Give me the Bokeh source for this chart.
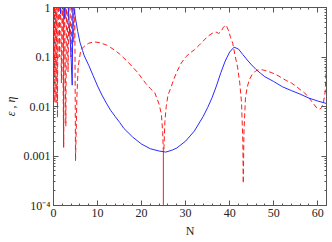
from bokeh.plotting import figure
from bokeh.models import LinearAxis, LogAxis, FixedTicker, Range1d, CustomJSTickFormatter
from bokeh.embed import file_html
from bokeh.resources import INLINE

# ---- data ----
blue_N = [0.0, 1.3, 1.6, 1.9, 2.3, 2.6, 2.8, 3.2, 3.5, 3.9, 4.25, 4.45, 4.7,
          5.0, 5.5, 6.0, 6.6, 7.0, 8.0, 9.0, 10.0, 11.0, 12.0, 13.0, 14.0, 15.0,
          16.0, 18.0, 20.0, 22.0, 24.0, 25.5, 27.0, 28.0, 30.0, 32.0, 34.0, 35.0,
          36.0, 37.0, 38.0, 39.0, 40.0, 41.0, 42.0, 43.0, 44.0, 45.0, 46.0, 47.0,
          48.0, 50.0, 52.0, 54.0, 56.0, 58.0, 60.0, 62.0]
blue_v = [3.0, 3.0, 0.75, 3.0, 3.0, 0.6, 3.0, 2.0, 0.55, 0.15, 0.027, 3.0, 0.9,
          0.6, 0.33, 0.2, 0.135, 0.105, 0.068, 0.042, 0.026, 0.017, 0.0117, 0.0083,
          0.0063, 0.0048, 0.0036, 0.0024, 0.00174, 0.0014, 0.00126, 0.0012, 0.00132,
          0.00145, 0.002, 0.0032, 0.0063, 0.0095, 0.015, 0.026, 0.048, 0.083, 0.126,
          0.158, 0.145, 0.112, 0.087, 0.069, 0.056, 0.047, 0.04, 0.032, 0.025, 0.021,
          0.0178, 0.0148, 0.0129, 0.0115]

red_N = [0.0, 0.1, 0.2, 0.3, 0.45, 0.6, 0.75, 0.9, 1.05, 1.3, 1.5, 1.8, 2.0, 2.3,
         2.45, 2.8, 3.0, 3.3, 3.6, 4.0, 4.3, 4.6, 4.8, 5.0, 5.15, 5.3, 5.6, 6.2,
         7.0, 8.0, 9.0, 9.6, 10.5, 12.0, 13.0, 14.0, 15.0, 16.0, 17.0, 18.0, 19.0,
         20.0, 21.0, 22.0, 23.0, 24.0, 24.5, 24.8, 24.95, 25.05, 25.3, 25.6, 26.0,
         26.5, 27.3, 28.0, 29.0, 30.0, 31.0, 32.0, 33.0, 34.0, 35.0, 36.0, 36.9,
         37.5, 38.0, 38.6, 39.2, 39.7, 40.2, 40.7, 41.3, 41.8, 42.3, 42.7, 43.0,
         43.1, 43.25, 43.6, 44.0, 44.5, 45.1, 46.0, 46.6, 47.5, 48.5, 49.6, 51.0,
         52.0, 53.0, 54.0, 55.0, 56.0, 57.0, 58.0, 59.0, 59.8, 60.4, 60.9, 61.3,
         61.7, 62.0]
red_v = [5.0, 0.05, 5.0, 0.012, 5.0, 0.012, 5.0, 0.006, 5.0, 0.1, 5.0, 0.03, 5.0,
         0.0015, 5.0, 0.004, 5.0, 0.05, 5.0, 0.1, 5.0, 0.2, 3.0, 0.0008, 0.003,
         0.015, 0.063, 0.14, 0.165, 0.19, 0.2, 0.2, 0.195, 0.175, 0.155, 0.135,
         0.115, 0.095, 0.078, 0.062, 0.05, 0.038, 0.029, 0.023, 0.019, 0.011, 0.007,
         0.003, 0.0012, 0.0012, 0.005, 0.01, 0.017, 0.022, 0.035, 0.05, 0.075, 0.1,
         0.12, 0.14, 0.17, 0.21, 0.26, 0.3, 0.32, 0.3, 0.32, 0.4, 0.44, 0.35, 0.25,
         0.19, 0.1, 0.063, 0.03, 0.012, 0.002, 0.00028, 0.003, 0.015, 0.025, 0.035,
         0.044, 0.053, 0.055, 0.055, 0.052, 0.048, 0.042, 0.037, 0.033, 0.03, 0.026,
         0.022, 0.019, 0.015, 0.0115, 0.0093, 0.0088, 0.0095, 0.012, 0.02, 0.09]

spike_N = [2.3, 24.95]
spike_top = [3.0, 0.0012]
spike_bottom = [0.0015, 1e-6]

x_ticks = [0, 10, 20, 30, 40, 50, 60]
x_minor = [n for n in range(0, 63, 2)]
y_ticks = [1e-4, 1e-3, 1e-2, 1e-1, 1.0]
y_tick_labels = ["10\u207b\u2074", "0.001", "0.01", "0.1", "1"]
y_minor = [k * t for t in y_ticks[:-1] for k in range(2, 10)]

x_label = "N"
y_label = "\u03b5 , \u03b7"

AX = "#555555"
FONT = "Liberation Serif"

p = figure(width=328, height=240, output_backend="svg", toolbar_location=None,
           y_axis_type="log", x_range=Range1d(0, 62), y_range=Range1d(1e-4, 1),
           min_border_left=0, min_border_right=2, min_border_top=7, min_border_bottom=0)
p.grid.visible = False
p.outline_line_color = AX
p.background_fill_color = "white"
p.border_fill_color = "white"

xt = FixedTicker(ticks=x_ticks, minor_ticks=x_minor)
yt = FixedTicker(ticks=y_ticks, minor_ticks=y_minor)


def style(ax):
    ax.axis_line_color = AX
    ax.major_tick_line_color = AX
    ax.minor_tick_line_color = AX
    ax.major_tick_in = 5
    ax.major_tick_out = 0
    ax.minor_tick_in = 2
    ax.minor_tick_out = 0
    ax.major_label_text_font = FONT
    ax.major_label_text_font_size = "12px"
    ax.major_label_text_color = "#222222"
    ax.axis_label_text_font = FONT
    ax.axis_label_text_font_size = "12px"
    ax.axis_label_text_font_style = "normal"
    ax.axis_label_text_color = "#222222"


p.xaxis.ticker = xt
p.yaxis.ticker = yt
style(p.xaxis[0])
style(p.yaxis[0])
p.xaxis.major_label_standoff = 3
p.xaxis.axis_label = x_label
p.xaxis.axis_label_standoff = 4
p.yaxis.major_label_standoff = 3
p.yaxis.axis_label = y_label
p.yaxis.axis_label_standoff = 3
p.yaxis.axis_label_text_font_style = "italic"
p.yaxis.major_label_overrides = dict(zip(y_ticks, y_tick_labels))

blank = CustomJSTickFormatter(code="return '';")
top = LinearAxis(ticker=FixedTicker(ticks=x_ticks, minor_ticks=x_minor), formatter=blank)
style(top)
top.major_label_standoff = 0
p.add_layout(top, "above")
right = LogAxis(ticker=FixedTicker(ticks=y_ticks, minor_ticks=y_minor), formatter=blank)
style(right)
right.major_label_standoff = 0
p.add_layout(right, "right")

p.line(red_N, red_v, line_color="#ff1a1a", line_width=1, line_dash="5 3")
p.segment(x0=spike_N, y0=spike_top, x1=spike_N, y1=spike_bottom,
          line_color="#ff1a1a", line_width=1)
p.line(blue_N, blue_v, line_color="#2a2aff", line_width=1)

open("out.html", "w").write(file_html(p, INLINE))
